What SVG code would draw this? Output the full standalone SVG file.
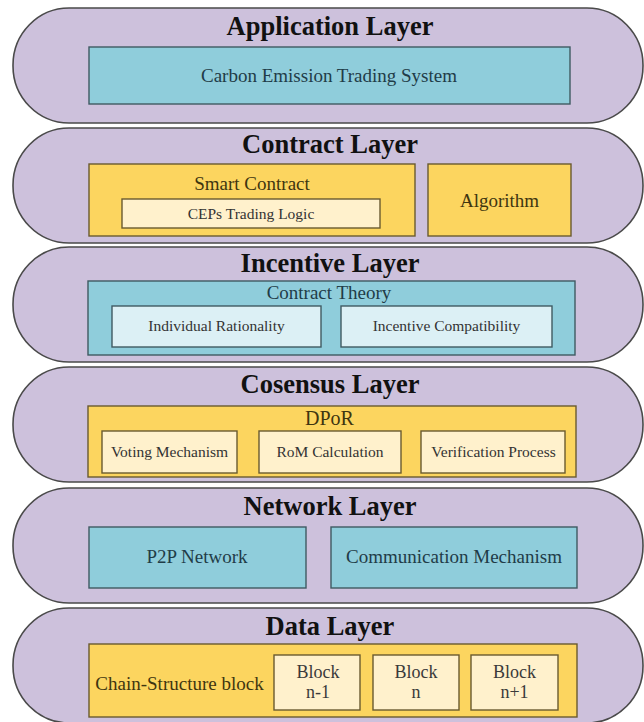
<svg xmlns="http://www.w3.org/2000/svg" width="644" height="722" viewBox="0 0 644 722">
<style>
.layer{fill:#cdc1dc;stroke:#4a4a4a;stroke-width:1.6}
.teal{fill:#8fcddb;stroke:#3f5a62;stroke-width:1.4}
.lteal{fill:#dcf0f5;stroke:#3f5a62;stroke-width:1.4}
.yel{fill:#fcd55f;stroke:#6a5a30;stroke-width:1.4}
.cream{fill:#fff1cc;stroke:#6a5a30;stroke-width:1.4}
text{font-family:"Liberation Serif","Times New Roman",serif;text-anchor:middle}
.title{font-weight:bold;font-size:26.5px;fill:#111}
.tt{font-size:19px;fill:#1f3c48}
.yt{font-size:19px;fill:#3f3510}
.st{font-size:15.5px;fill:#333}
.bt{font-size:18px;fill:#3a3a3a}
</style>
<g id="application-layer">
<rect class="layer" x="13" y="8" width="630" height="115" rx="56" ry="57"/>
<text class="title" x="330" y="35">Application Layer</text>
<g id="cets"><rect class="teal" x="89" y="47" width="481" height="57"/><text class="tt" x="329" y="82">Carbon Emission Trading System</text></g>
</g>
<g id="contract-layer">
<rect class="layer" x="13" y="128" width="630" height="115" rx="56" ry="57"/>
<text class="title" x="330" y="153">Contract Layer</text>
<g id="smart-contract"><rect class="yel" x="89" y="164" width="326" height="72"/><text class="yt" x="252" y="190">Smart Contract</text></g>
<g id="ceps"><rect class="cream" x="122" y="199" width="258" height="29"/><text class="st" x="251" y="218.5">CEPs Trading Logic</text></g>
<g id="algorithm"><rect class="yel" x="428" y="164" width="143" height="72"/><text class="yt" x="499.5" y="207">Algorithm</text></g>
</g>
<g id="incentive-layer">
<rect class="layer" x="13" y="247" width="630" height="115" rx="56" ry="57"/>
<text class="title" x="330" y="272">Incentive Layer</text>
<g id="contract-theory"><rect class="teal" x="88" y="281" width="487" height="74"/><text class="tt" x="329" y="299">Contract Theory</text></g>
<g id="ir"><rect class="lteal" x="112" y="306" width="209" height="41"/><text class="st" x="216.5" y="331">Individual Rationality</text></g>
<g id="ic"><rect class="lteal" x="341" y="306" width="211" height="41"/><text class="st" x="446.5" y="331">Incentive Compatibility</text></g>
</g>
<g id="consensus-layer">
<rect class="layer" x="13" y="367" width="630" height="115" rx="56" ry="57"/>
<text class="title" x="330" y="393">Cosensus Layer</text>
<g id="dpor"><rect class="yel" x="88" y="406" width="488" height="71"/><text class="yt" x="329.5" y="425" style="font-size:20px">DPoR</text></g>
<g id="voting"><rect class="cream" x="102" y="431" width="135" height="42"/><text class="st" x="169.5" y="457">Voting Mechanism</text></g>
<g id="rom"><rect class="cream" x="259" y="431" width="142" height="42"/><text class="st" x="330" y="457">RoM Calculation</text></g>
<g id="verification"><rect class="cream" x="421" y="431" width="144" height="42"/><text class="st" x="493.5" y="457">Verification Process</text></g>
</g>
<g id="network-layer">
<rect class="layer" x="13" y="488" width="630" height="115" rx="56" ry="57"/>
<text class="title" x="330" y="515">Network Layer</text>
<g id="p2p"><rect class="teal" x="89" y="527" width="217" height="61"/><text class="tt" x="197" y="563">P2P Network</text></g>
<g id="comm"><rect class="teal" x="331" y="527" width="246" height="61"/><text class="tt" x="454" y="563">Communication Mechanism</text></g>
</g>
<g id="data-layer">
<rect class="layer" x="13" y="608" width="630" height="115" rx="56" ry="57"/>
<text class="title" x="330" y="635">Data Layer</text>
<g id="chain"><rect class="yel" x="89" y="644" width="488" height="73"/><text class="yt" x="179.5" y="690">Chain-Structure block</text></g>
<g id="block-n-1"><rect class="cream" x="274" y="655" width="86" height="55"/><text class="bt" x="318" y="678">Block</text><text class="bt" x="318" y="698">n-1</text></g>
<g id="block-n"><rect class="cream" x="373" y="655" width="86" height="55"/><text class="bt" x="416" y="678">Block</text><text class="bt" x="416" y="698">n</text></g>
<g id="block-n1"><rect class="cream" x="471" y="655" width="87" height="55"/><text class="bt" x="514.5" y="678">Block</text><text class="bt" x="514.5" y="698">n+1</text></g>
</g>
<g id="connectors"></g>
</svg>
